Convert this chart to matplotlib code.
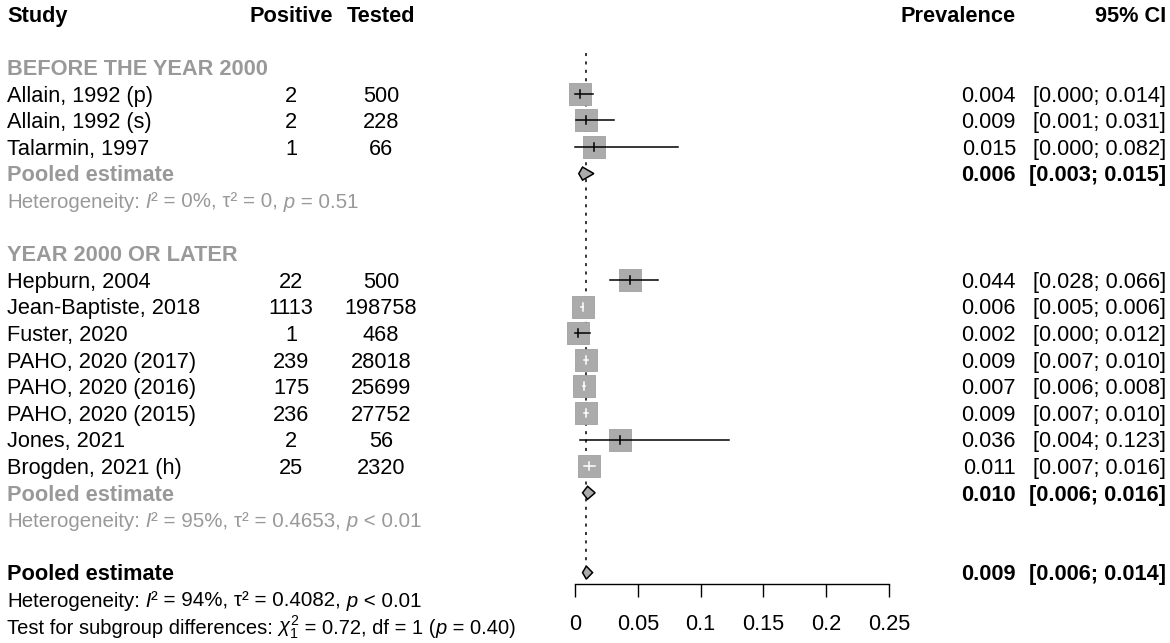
import numpy as np
import matplotlib.pyplot as plt
from matplotlib.patches import Polygon
from matplotlib.transforms import offset_copy

plt.rcParams['font.family'] = ['Liberation Sans', 'DejaVu Sans']
plt.rcParams['mathtext.fontset'] = 'custom'
plt.rcParams['mathtext.rm'] = 'Liberation Sans'
plt.rcParams['mathtext.it'] = 'Liberation Sans:italic'

#----- data
g1_studies = ['Allain, 1992 (p)', 'Allain, 1992 (s)', 'Talarmin, 1997']
g1_pos = [2, 2, 1]
g1_tested = [500, 228, 66]
g1_prev = [0.004, 0.009, 0.015]
g1_lo = [0.000, 0.001, 0.000]
g1_hi = [0.014, 0.031, 0.082]
g1_pooled = (0.006, 0.003, 0.015)
g1_het = ('0%', '0', '= 0.51')

g2_studies = ['Hepburn, 2004', 'Jean-Baptiste, 2018', 'Fuster, 2020',
              'PAHO, 2020 (2017)', 'PAHO, 2020 (2016)', 'PAHO, 2020 (2015)',
              'Jones, 2021', 'Brogden, 2021 (h)']
g2_pos = [22, 1113, 1, 239, 175, 236, 2, 25]
g2_tested = [500, 198758, 468, 28018, 25699, 27752, 56, 2320]
g2_prev = [0.044, 0.006, 0.002, 0.009, 0.007, 0.009, 0.036, 0.011]
g2_lo = [0.028, 0.005, 0.000, 0.007, 0.006, 0.007, 0.004, 0.007]
g2_hi = [0.066, 0.006, 0.012, 0.010, 0.008, 0.010, 0.123, 0.016]
g2_pooled = (0.010, 0.006, 0.016)
g2_het = ('95%', '0.4653', '< 0.01')

overall = (0.009, 0.006, 0.014)
overall_het = ('94%', '0.4082', '< 0.01')
subgroup_chi2, subgroup_df, subgroup_p = '0.72', '1', '0.40'

xticks = [0, 0.05, 0.1, 0.15, 0.2, 0.25]
xticklabels = ['0', '0.05', '0.1', '0.15', '0.2', '0.25']

#----- layout
W, H = 1170, 643
row_px = 26.6
top_px = 14.0
FS = 15.7
FS_HET = 14.8
FS_TEST = 14.5
GREY = '#999999'
SQ = '#ababab'

def px2row(p):
    return (p - top_px) / row_px

fig = plt.figure(figsize=(W / 100, H / 100), dpi=100)
renderer = fig.canvas.get_renderer()

# text layer (x in pixels, y in rows)
tx = fig.add_axes([0, 0, 1, 1])
tx.set_xlim(0, W)
tx.set_ylim(px2row(H), px2row(0))
tx.axis('off')

# forest layer
fx0, fx1 = 555, 905
zero_px, quarter_px = 575, 889
ppu = (quarter_px - zero_px) / 0.25
axis_px = 584
ax = fig.add_axes([fx0 / W, 1 - axis_px / H, (fx1 - fx0) / W, axis_px / H])
ax.set_facecolor('none')
ax.set_xlim((fx0 - zero_px) / ppu, (fx1 - zero_px) / ppu)
ax.set_ylim(px2row(axis_px), px2row(0))
for s in ['top', 'left', 'right']:
    ax.spines[s].set_visible(False)
ax.spines['bottom'].set_bounds(0, 0.25)
ax.spines['bottom'].set_linewidth(1.0)
ax.set_yticks([])
ax.set_xticks(xticks)
ax.set_xticklabels(xticklabels, fontsize=FS)
ax.tick_params(axis='x', length=9.4, width=1.0, pad=12.5)

BL = 0.29  # baseline offset in rows

def txt(x, r, s, ha='left', color='black', bold=False):
    tx.text(x, r + BL, s, ha=ha, va='baseline', fontsize=FS, color=color,
            fontweight='bold' if bold else 'normal')

def pieces(x, r, parts, color='black', fs=FS_HET):
    # draw text chunks one after another (spaces kept at chunk starts)
    dx = 0
    for s, style in parts:
        tr = offset_copy(tx.transData, fig=fig, x=dx, y=0, units='dots')
        t = tx.text(x, r + BL, s, ha='left', va='baseline', fontsize=fs,
                    color=color, fontstyle=style, transform=tr)
        dx += t.get_window_extent(renderer=renderer).width

def het(x, r, vals, color):
    i2, tau2, p = vals
    pieces(x, r, [('Heterogeneity:', 'normal'), (' I', 'italic'),
                  ('\u00b2 = ' + i2 + ', \u03c4\u00b2 = ' + tau2 + ',', 'normal'),
                  (' p', 'italic'), (' ' + p, 'normal')], color)

# header
txt(7, 0, 'Study', bold=True)
txt(291, 0, 'Positive', ha='center', bold=True)
txt(381, 0, 'Tested', ha='center', bold=True)
txt(1016, 0, 'Prevalence', ha='right', bold=True)
txt(1166, 0, '95% CI', ha='right', bold=True)

half_w = 11 / ppu  # square half width in data units

def study_rows(start, names, pos, tested, prev, lo, hi):
    rows = np.arange(start, start + len(names))
    ax.scatter(prev, rows, marker='s', s=15.6 ** 2, c=SQ, edgecolors='#a0a0a0',
               linewidths=0.6, zorder=2)
    for r, n, p, t, e, l, h in zip(rows, names, pos, tested, prev, lo, hi):
        inside = (l >= e - half_w) and (h <= e + half_w)
        col = 'white' if inside else 'black'
        ax.plot([l, h], [r, r], color=col, lw=1.1, zorder=3)
        ax.plot([e, e], [r - 0.15, r + 0.15], color=col, lw=1.1, zorder=3)
        txt(7, r, n)
        txt(291, r, str(p), ha='center')
        txt(381, r, str(t), ha='center')
        txt(1016, r, '%.3f' % e, ha='right')
        txt(1166, r, '[%.3f; %.3f]' % (l, h), ha='right')
    return rows

def diamond(r, est, lo, hi, label, color):
    d = Polygon([[lo, r], [est, r - 0.245], [hi, r], [est, r + 0.245]],
                closed=True, facecolor=SQ, edgecolor='black', lw=1.1, zorder=3)
    ax.add_patch(d)
    txt(7, r, label, color=color, bold=True)
    txt(1016, r, '%.3f' % est, ha='right', bold=True)
    txt(1166, r, '[%.3f; %.3f]' % (lo, hi), ha='right', bold=True)

# group 1
txt(7, 2, 'BEFORE THE YEAR 2000', color=GREY, bold=True)
study_rows(3, g1_studies, g1_pos, g1_tested, g1_prev, g1_lo, g1_hi)
diamond(6, *g1_pooled, 'Pooled estimate', GREY)
het(7, 7, g1_het, GREY)

# group 2
txt(7, 9, 'YEAR 2000 OR LATER', color=GREY, bold=True)
study_rows(10, g2_studies, g2_pos, g2_tested, g2_prev, g2_lo, g2_hi)
diamond(18, *g2_pooled, 'Pooled estimate', GREY)
het(7, 19, g2_het, GREY)

# overall
diamond(21, *overall, 'Pooled estimate', 'black')
het(7, 22, overall_het, 'black')
pieces(7, 23, [('Test for subgroup differences:', 'normal'),
               (' $\\chi^2_1$', 'normal'),
               (' = ' + subgroup_chi2 + ', df = ' + subgroup_df + ' (', 'normal'),
               ('p', 'italic'), (' = ' + subgroup_p + ')', 'normal')],
       fs=FS_TEST)

# reference line at the overall estimate
ax.plot([overall[0], overall[0]], [1.45, 21 - 0.245], color='black', lw=1.1,
        dashes=(2, 3.5), zorder=1)

fig.savefig('out.png', dpi=100)
